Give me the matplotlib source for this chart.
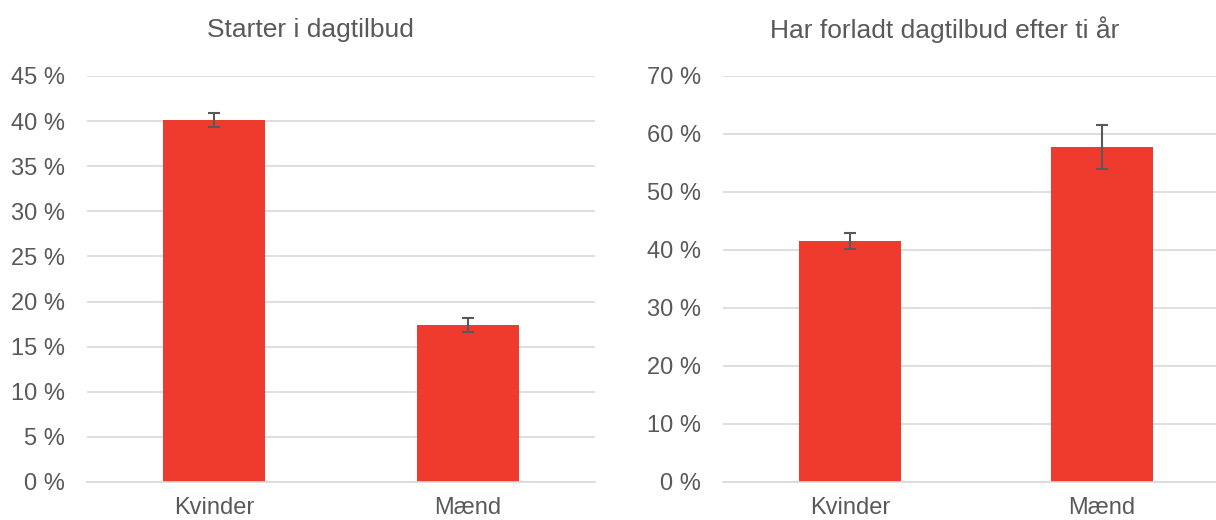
import matplotlib.pyplot as plt
from matplotlib.ticker import FuncFormatter

plt.rcParams['font.family'] = ['Liberation Sans', 'DejaVu Sans']

categories = ['Kvinder', 'Mænd']

start_values = [40.1, 17.4]
start_err = [0.75, 0.8]

left_values = [41.6, 57.7]
left_err = [1.4, 3.8]

titles = ['Starter i dagtilbud', 'Har forladt dagtilbud efter ti år']

bar_color = '#ee3b2e'
text_color = '#595959'
grid_color = '#d9d9d9'

fig = plt.figure(figsize=(12.16, 5.2), dpi=100)

W, H = 1216, 520
ax1 = fig.add_axes([87 / W, 38 / H, 508 / W, 406 / H])
ax2 = fig.add_axes([723 / W, 38 / H, 493 / W, 406 / H])


def draw(ax, values, errs, title, title_x, ymax, step, xlim, width):
    x = range(len(categories))
    ax.bar(x, values, width=width, color=bar_color, zorder=2,
           yerr=errs, error_kw=dict(ecolor=text_color, elinewidth=1.5,
                                    capsize=4.5, capthick=1.5))
    ax.set_xlim(*xlim)
    ax.set_ylim(0, ymax)
    ax.set_yticks(range(0, ymax + 1, step))
    ax.yaxis.set_major_formatter(FuncFormatter(lambda v, p: f'{v:.0f} %'))
    ax.set_xticks(list(x))
    ax.set_xticklabels(categories)
    ax.grid(axis='y', color=grid_color, linewidth=1.2, zorder=0)
    for s in ['top', 'right', 'left']:
        ax.spines[s].set_visible(False)
    ax.spines['bottom'].set_color(grid_color)
    ax.spines['bottom'].set_linewidth(1.2)
    ax.tick_params(axis='both', length=0, labelsize=17, colors=text_color)
    ax.tick_params(axis='y', pad=16)
    ax.tick_params(axis='x', pad=11)
    fig.text(title_x / W, 1 - 30 / H, title, fontsize=19, color=text_color,
             ha='center', va='center')


draw(ax1, start_values, start_err, titles[0], 310, 45, 5, (-0.5, 1.5), 0.4)
draw(ax2, left_values, left_err, titles[1], 945, 70, 10, (-0.504, 1.452), 0.405)

fig.savefig('out.png', dpi=100)
